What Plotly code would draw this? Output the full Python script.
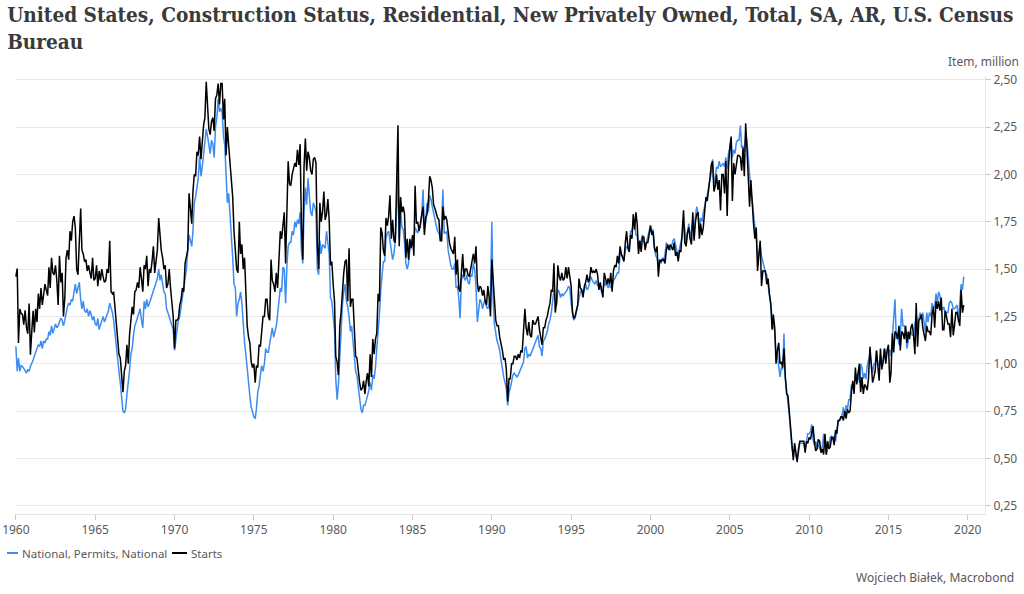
import pandas as pd
import plotly.graph_objects as go

# Monthly values, thousands of units, SAAR
starts_1960s = [
    1460, 1503, 1109, 1289, 1266, 1260, 1206, 1282, 1190, 1159, 1318, 1047,
    1171, 1280, 1165, 1290, 1220, 1370, 1290, 1400, 1310, 1380, 1420, 1390,
    1360, 1510, 1400, 1560, 1480, 1470, 1520, 1440, 1310, 1570, 1430, 1480,
    1250, 1350, 1560, 1600, 1550, 1700, 1650, 1750, 1780, 1720, 1500, 1470,
    1620, 1820, 1600, 1580, 1540, 1550, 1490, 1520, 1480, 1450, 1560, 1440,
    1450, 1520, 1410, 1490, 1440, 1500, 1460, 1430, 1440, 1500, 1480, 1650,
    1380, 1370, 1380, 1300, 1230, 1160, 1050, 1030, 940, 850, 960, 990,
    1100, 1000, 1150, 1230, 1300, 1260, 1380, 1390, 1430, 1400, 1510, 1450,
    1380, 1520, 1500, 1570, 1410, 1500, 1480, 1540, 1620, 1480, 1540, 1600,
    1770, 1650, 1600, 1560, 1500, 1520, 1400, 1420, 1500, 1400, 1330, 1250,
]
starts_1970s = [
    1080, 1230, 1230, 1240, 1310, 1340, 1400, 1380, 1530, 1560, 1600, 1900,
    1830, 1740, 1910, 2000, 1990, 2120, 2100, 2200, 2080, 2180, 2260, 2300,
    2490, 2360, 2240, 2210, 2280, 2300, 2230, 2400, 2420, 2480, 2370, 2480,
    2480, 2290, 2400, 2100, 2250, 2150, 2060, 2000, 1880, 1700, 1580, 1500,
    1480, 1750, 1580, 1630, 1500, 1560, 1380, 1200, 1140, 1110, 1010, 980,
    1000, 900, 990, 980, 1100, 1090, 1170, 1250, 1250, 1340, 1340, 1250,
    1230, 1550, 1440, 1420, 1380, 1480, 1400, 1540, 1700, 1660, 1730, 1800,
    1530, 1800, 2070, 1950, 1940, 2000, 2030, 2060, 2040, 2130, 2050, 2160,
    1720, 1550, 2040, 2190, 2020, 2120, 2090, 2020, 2000, 2080, 2090, 2060,
    1630, 1500, 1850, 1750, 1800, 1910, 1760, 1790, 1870, 1760, 1520, 1540,
]
starts_1980s = [
    1420, 1330, 1040, 1010, 940, 1200, 1270, 1390, 1480, 1540, 1550, 1330,
    1610, 1300, 1340, 1340, 1180, 1040, 1030, 950, 900, 860, 870, 910,
    840, 910, 950, 880, 1050, 930, 1130, 1050, 1130, 1160, 1370, 1330,
    1720, 1690, 1600, 1570, 1770, 1730, 1780, 1890, 1660, 1760, 1650, 1640,
    1950, 2260, 1620, 1880, 1800, 1830, 1790, 1560, 1660, 1550, 1660, 1610,
    1680, 1570, 1940, 1740, 1750, 1700, 1740, 1790, 1830, 1680, 1770, 1790,
    1860, 1990, 1970, 1930, 1840, 1820, 1790, 1770, 1760, 1650, 1650, 1830,
    1760, 1780, 1760, 1690, 1640, 1610, 1590, 1580, 1670, 1470, 1550, 1400,
    1380, 1470, 1580, 1460, 1500, 1500, 1470, 1460, 1500, 1550, 1580, 1530,
    1620, 1430, 1380, 1410, 1400, 1360, 1390, 1330, 1310, 1410, 1350, 1250,
]
starts_1990s = [
    1550, 1440, 1320, 1230, 1200, 1200, 1140, 1110, 1070, 1020, 1030, 970,
    800, 920, 920, 1000, 1000, 1040, 1040, 1020, 1050, 1030, 1070, 1060,
    1180, 1290, 1190, 1150, 1220, 1150, 1140, 1230, 1210, 1210, 1230, 1250,
    1180, 1130, 1100, 1190, 1190, 1230, 1250, 1290, 1320, 1390, 1380, 1530,
    1270, 1330, 1520, 1460, 1440, 1480, 1440, 1450, 1510, 1450, 1510, 1460,
    1410, 1270, 1240, 1250, 1280, 1310, 1450, 1400, 1390, 1350, 1410, 1430,
    1470, 1430, 1450, 1510, 1480, 1490, 1480, 1500, 1470, 1390, 1430, 1380,
    1350, 1480, 1450, 1420, 1450, 1420, 1480, 1380, 1490, 1520, 1510, 1570,
    1530, 1620, 1580, 1560, 1540, 1640, 1700, 1610, 1590, 1680, 1660, 1790,
    1710, 1800, 1740, 1580, 1650, 1590, 1670, 1670, 1600, 1640, 1640, 1680,
]
starts_2000s = [
    1730, 1680, 1700, 1610, 1590, 1620, 1460, 1550, 1540, 1550, 1550, 1530,
    1600, 1630, 1600, 1630, 1610, 1600, 1640, 1570, 1590, 1540, 1600, 1590,
    1700, 1810, 1640, 1620, 1690, 1720, 1660, 1630, 1800, 1650, 1750, 1790,
    1800, 1660, 1740, 1680, 1720, 1830, 1880, 1860, 1910, 1980, 2050, 2070,
    1910, 1940, 2000, 1920, 1970, 1810, 2000, 2000, 1900, 2070, 1780, 2040,
    2140, 2200, 1860, 2060, 2000, 2050, 2100, 2100, 2090, 2020, 2140, 1990,
    2270, 2130, 1970, 1830, 1970, 1830, 1740, 1660, 1720, 1490, 1570, 1650,
    1410, 1490, 1490, 1490, 1420, 1450, 1370, 1320, 1180, 1260, 1190, 1000,
    1070, 1110, 1000, 1010, 980, 1080, 930, 840, 830, 750, 650, 560,
    490, 580, 520, 480, 550, 590, 590, 590, 590, 530, 590, 580,
]
starts_2010s = [
    610, 600, 630, 670, 590, 540, 550, 600, 590, 530, 550, 520,
    630, 520, 590, 550, 560, 610, 610, 570, 650, 630, 700, 700,
    720, 720, 700, 750, 710, 760, 740, 750, 850, 910, 840, 980,
    890, 960, 1000, 850, 930, 840, 890, 880, 860, 930, 1090, 1000,
    900, 930, 960, 1070, 990, 910, 1080, 970, 1010, 1080, 1000, 1070,
    1100, 900, 950, 1160, 1060, 1170, 1160, 1130, 1200, 1070, 1170, 1160,
    1130, 1200, 1110, 1170, 1130, 1190, 1210, 1150, 1050, 1320, 1090, 1230,
    1240, 1260, 1190, 1160, 1120, 1200, 1170, 1170, 1150, 1260, 1300, 1190,
    1330, 1290, 1330, 1280, 1350, 1180, 1180, 1280, 1240, 1210, 1210, 1140,
    1290, 1150, 1200, 1270, 1270, 1240, 1200, 1390, 1270, 1310,
]

permits_1960s = [
    1092, 960, 1030, 960, 990, 985, 975, 965, 950, 970, 960, 985,
    1000, 1020, 1040, 1060, 1090, 1100, 1090, 1120, 1080, 1120, 1110, 1130,
    1130, 1170, 1150, 1200, 1160, 1180, 1210, 1190, 1200, 1220, 1240, 1230,
    1200, 1230, 1270, 1300, 1320, 1310, 1340, 1330, 1380, 1420, 1370, 1400,
    1430, 1340, 1290, 1330, 1280, 1270, 1290, 1250, 1280, 1260, 1230, 1250,
    1210, 1200, 1240, 1180, 1200, 1230, 1250, 1220, 1240, 1260, 1280, 1320,
    1300, 1270, 1230, 1150, 1080, 1000, 960, 900, 800, 750, 740, 760,
    840, 900, 960, 1050, 1080, 1150, 1200, 1220, 1240, 1260, 1290, 1230,
    1190, 1330, 1290, 1340, 1300, 1320, 1340, 1370, 1390, 1410, 1420, 1450,
    1500, 1440, 1470, 1420, 1380, 1370, 1290, 1270, 1250, 1230, 1200, 1180,
]
permits_1970s = [
    1070, 1150, 1180, 1230, 1250, 1300, 1350, 1390, 1450, 1500, 1600, 1680,
    1650, 1620, 1700, 1850, 1880, 1940, 1980, 2100, 1990, 2040, 2120, 2200,
    2240, 2200, 2150, 2110, 2180, 2160, 2090, 2250, 2300, 2400, 2330, 2350,
    2330, 2200, 2160, 1950, 1850, 1900, 1800, 1700, 1560, 1420, 1400, 1250,
    1320, 1340, 1380, 1320, 1200, 1110, 1050, 960, 880, 830, 770, 740,
    720, 710, 760, 850, 880, 940, 990, 960, 1000, 1080, 1060, 1060,
    1110, 1150, 1190, 1140, 1170, 1200, 1260, 1320, 1400, 1380, 1510, 1500,
    1320, 1520, 1620, 1640, 1640, 1700, 1680, 1750, 1720, 1760, 1740, 1800,
    1590, 1530, 1800, 1930, 1840, 1980, 1880, 1800, 1780, 1850, 1830, 1800,
    1500, 1470, 1650, 1580, 1630, 1620, 1610, 1700, 1620, 1580, 1350, 1330,
]
permits_1980s = [
    1250, 1180, 920, 810, 890, 1040, 1180, 1310, 1380, 1420, 1330, 1300,
    1250, 1170, 1200, 1120, 1030, 960, 940, 880, 800, 760, 740, 780,
    780, 800, 830, 860, 900, 860, 940, 920, 980, 1080, 1160, 1260,
    1390, 1500, 1540, 1540, 1660, 1690, 1700, 1650, 1580, 1550, 1580, 1650,
    1800, 1990, 1660, 1820, 1720, 1710, 1640, 1530, 1500, 1530, 1600, 1620,
    1640, 1650, 1720, 1700, 1690, 1720, 1720, 1790, 1920, 1710, 1750, 1850,
    1800, 1890, 1870, 1830, 1790, 1750, 1730, 1700, 1690, 1660, 1720, 1920,
    1690, 1690, 1700, 1600, 1550, 1520, 1500, 1500, 1530, 1400, 1410, 1350,
    1240, 1440, 1470, 1450, 1440, 1470, 1430, 1420, 1470, 1460, 1530, 1500,
    1410, 1220, 1300, 1340, 1330, 1290, 1320, 1340, 1300, 1290, 1320, 1370,
]
permits_1990s = [
    1750, 1330, 1210, 1150, 1120, 1100, 1070, 1020, 970, 930, 900, 870,
    780, 850, 870, 910, 940, 950, 940, 930, 940, 960, 970, 1000,
    1010, 1080, 1090, 1030, 1050, 1040, 1060, 1070, 1090, 1110, 1130, 1150,
    1090, 1080, 1040, 1120, 1130, 1150, 1170, 1210, 1230, 1270, 1330, 1390,
    1330, 1310, 1390, 1380, 1350, 1370, 1360, 1370, 1380, 1390, 1410, 1400,
    1320, 1260, 1230, 1240, 1280, 1300, 1360, 1380, 1390, 1370, 1390, 1420,
    1390, 1400, 1430, 1460, 1440, 1430, 1420, 1440, 1410, 1420, 1410, 1380,
    1380, 1440, 1410, 1430, 1400, 1420, 1400, 1410, 1440, 1450, 1470, 1480,
    1480, 1580, 1580, 1560, 1550, 1600, 1620, 1610, 1630, 1700, 1700, 1740,
    1730, 1680, 1680, 1600, 1620, 1650, 1680, 1640, 1630, 1640, 1670, 1700,
]
permits_2000s = [
    1730, 1690, 1710, 1620, 1570, 1560, 1500, 1540, 1530, 1560, 1540, 1580,
    1640, 1620, 1610, 1600, 1620, 1650, 1660, 1620, 1600, 1560, 1610, 1640,
    1670, 1740, 1710, 1640, 1690, 1740, 1670, 1700, 1760, 1680, 1780, 1830,
    1790, 1720, 1770, 1750, 1800, 1840, 1860, 1890, 1940, 1970, 2010, 2080,
    1950, 1980, 2040, 2030, 2070, 2040, 2050, 2060, 2040, 2090, 2030, 2110,
    2140, 2180, 2090, 2130, 2110, 2170, 2180, 2180, 2260, 2140, 2150, 2120,
    2210, 2180, 2090, 1980, 1910, 1860, 1770, 1720, 1670, 1560, 1580, 1630,
    1570, 1540, 1500, 1480, 1470, 1410, 1370, 1320, 1260, 1200, 1170, 1060,
    1050, 980, 930, 980, 970, 1160, 930, 860, 800, 730, 640, 550,
    530, 550, 510, 500, 530, 580, 580, 580, 580, 550, 600, 630,
]
permits_2010s = [
    630, 640, 680, 600, 570, 590, 560, 570, 550, 550, 560, 630,
    560, 520, 590, 560, 610, 620, 600, 620, 590, 650, 700, 700,
    710, 730, 770, 720, 780, 760, 810, 810, 890, 870, 900, 920,
    940, 950, 900, 1000, 980, 920, 950, 920, 990, 1020, 1050, 1000,
    950, 1000, 1000, 1070, 1000, 990, 1050, 1000, 1020, 1080, 1050, 1060,
    1070, 1070, 1040, 1140, 1250, 1340, 1130, 1160, 1100, 1150, 1290, 1200,
    1200, 1170, 1080, 1130, 1160, 1170, 1150, 1150, 1220, 1260, 1200, 1230,
    1270, 1230, 1270, 1220, 1170, 1270, 1220, 1270, 1250, 1320, 1300, 1300,
    1370, 1320, 1380, 1360, 1300, 1290, 1300, 1250, 1270, 1270, 1320, 1330,
    1320, 1290, 1290, 1300, 1310, 1220, 1320, 1420, 1390, 1460,
]

series_names = ["National, Permits, National", "Starts"]
y_ticks = [0.25, 0.50, 0.75, 1.00, 1.25, 1.50, 1.75, 2.00, 2.25, 2.50]

starts = starts_1960s + starts_1970s + starts_1980s + starts_1990s + starts_2000s + starts_2010s
permits = permits_1960s + permits_1970s + permits_1980s + permits_1990s + permits_2000s + permits_2010s
dates = pd.date_range("1960-01-01", periods=len(starts), freq="MS")

starts_m = [v / 1000 for v in starts]
permits_m = [v / 1000 for v in permits]

BLUE = "#3d8cf2"
BLACK = "#000000"
GREY = "#595959"
FONT = "Noto Sans"

# plot area in pixels: left 15, right 985, top 76, bottom 514
L, R, T, B = 15, 985, 76, 514
W, H = R - L, B - T


def px_x(px):
    return (px - L) / W


def px_y(py):
    return (B - py) / H


fig = go.Figure()
fig.add_trace(go.Scatter(x=dates, y=permits_m, mode="lines", name=series_names[0],
                         line=dict(color=BLUE, width=1.5), showlegend=False))
fig.add_trace(go.Scatter(x=dates, y=starts_m, mode="lines", name=series_names[1],
                         line=dict(color=BLACK, width=1.5), showlegend=False))

legend_y = px_y(553)
shapes = [
    dict(type="line", xref="paper", yref="paper", x0=px_x(7), x1=px_x(18), y0=legend_y, y1=legend_y,
         line=dict(color=BLUE, width=2)),
    dict(type="line", xref="paper", yref="paper", x0=px_x(172), x1=px_x(187), y0=legend_y, y1=legend_y,
         line=dict(color=BLACK, width=2)),
]

annotations = [
    dict(text=series_names[0], xref="paper", yref="paper", x=px_x(20), y=legend_y,
         xanchor="left", yanchor="middle", showarrow=False,
         font=dict(family=FONT, size=11.5, color=GREY)),
    dict(text=series_names[1], xref="paper", yref="paper", x=px_x(189), y=legend_y,
         xanchor="left", yanchor="middle", showarrow=False,
         font=dict(family=FONT, size=11.5, color=GREY)),
    dict(text="Item, million", xref="paper", yref="paper", x=px_x(1021), y=px_y(62),
         xanchor="right", yanchor="middle", showarrow=False,
         font=dict(family=FONT, size=12, color=GREY)),
    dict(text="Wojciech Białek, Macrobond", xref="paper", yref="paper", x=px_x(1016), y=px_y(577),
         xanchor="right", yanchor="middle", showarrow=False,
         font=dict(family=FONT, size=12, color=GREY)),
]

fig.update_layout(
    width=1024, height=594,
    paper_bgcolor="white", plot_bgcolor="white",
    separators=", ",
    margin=dict(l=L, r=1024 - R, t=T, b=594 - B, autoexpand=False),
    font=dict(family=FONT, size=12, color=GREY),
    title=dict(
        text="<b>United States, Construction Status, Residential, New Privately Owned, Total, SA, AR, U.S. Census<br>Bureau</b>",
        x=0.007, xanchor="left", xref="container",
        y=0.963, yanchor="top", yref="container",
        font=dict(family="DejaVu Serif Condensed", size=20.6, color="#3a3a3a"),
    ),
    showlegend=False,
    xaxis=dict(
        type="date",
        range=["1959-12-12", "2021-02-01"],
        tick0="1960-01-01", dtick="M60", tickformat="%Y",
        ticks="outside", ticklen=5, tickcolor="#c8c8c8",
        showgrid=False, showline=True, linecolor="#e2e2e2", linewidth=1,
        tickfont=dict(family=FONT, size=12, color=GREY),
        zeroline=False, automargin=False,
    ),
    yaxis=dict(
        side="right",
        range=[0.206, 2.52],
        tickvals=y_ticks, tickformat=".2f",
        ticks="outside", ticklen=5, tickcolor="#c8c8c8",
        showgrid=True, gridcolor="#e9e9e9", gridwidth=1,
        showline=True, linecolor="#e8e8e8", linewidth=1,
        tickfont=dict(family=FONT, size=12, color=GREY),
        zeroline=False, automargin=False,
    ),
    shapes=shapes,
    annotations=annotations,
)

fig.write_html(
    "out.html",
    config={"displayModeBar": False},
    post_script="document.body.style.margin='0px';document.body.style.overflow='hidden';",
)
